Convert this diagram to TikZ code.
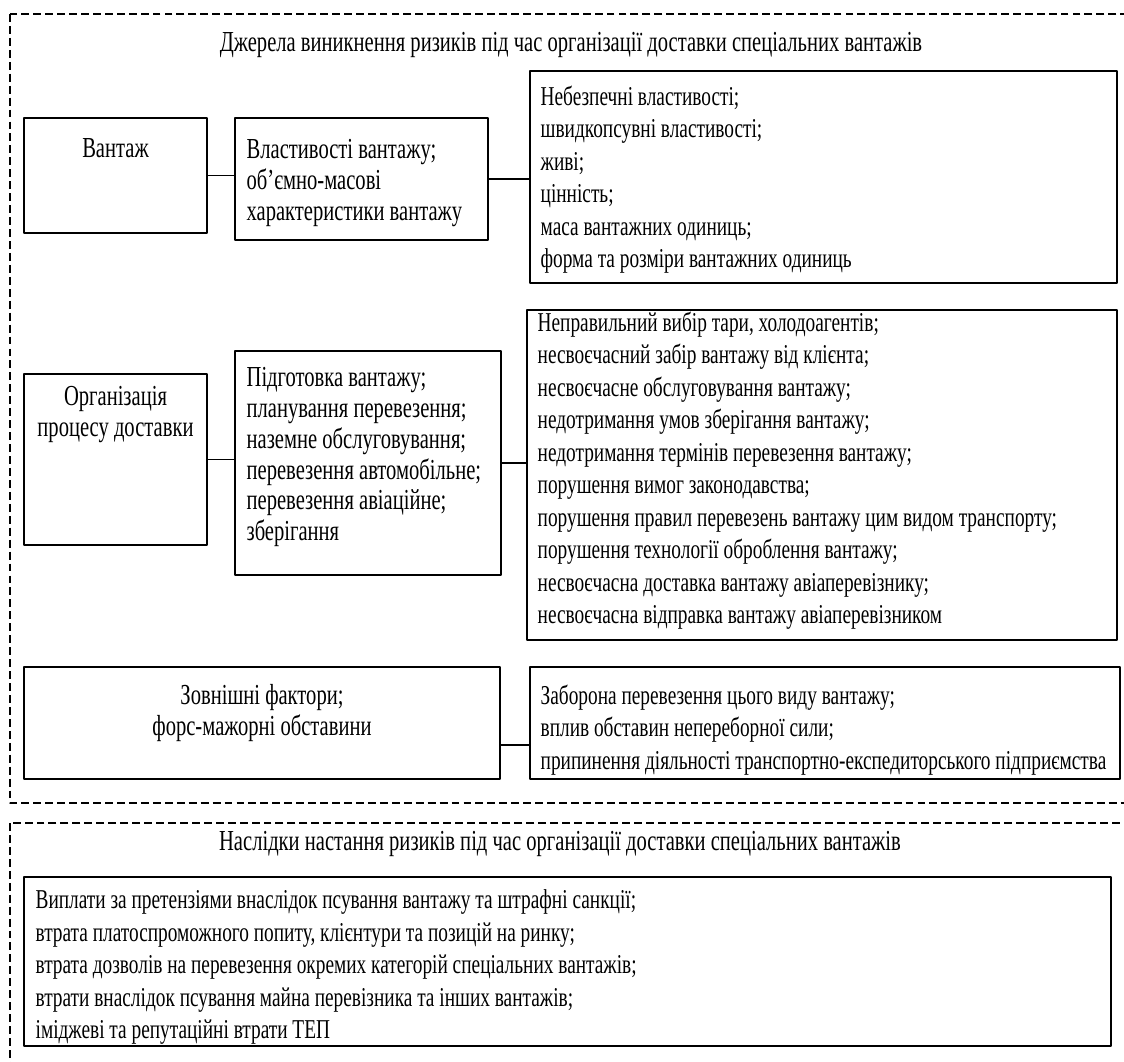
\documentclass[tikz,border=0pt]{standalone}
\usepackage{fontspec}
\setmainfont{Liberation Serif}[FakeStretch=0.71]
\usetikzlibrary{fit}
\begin{document}
\begin{tikzpicture}[x=0.02cm,y=-0.02cm,line join=round]
	\tikzset{box/.style={draw,line width=0.8pt,inner sep=0pt},
		txt/.style={font=\fontsize{16.5}{17.5}\selectfont,inner sep=0pt},
		sml/.style={font=\fontsize{15.5}{18.5}\selectfont,inner sep=0pt},
		lst/.style={txt,align=left,anchor=north west},
		slst/.style={sml,align=left,anchor=north west},
		ctr/.style={txt,align=center,anchor=north},
		frame/.style={line width=0.6pt,dash pattern=on 4.5pt off 2.3pt}}
	%% Межі рисунка
	\useasboundingbox (0,0) rectangle (1124,1061);
	\clip (0,0) rectangle (1124,1061);
	%% Пунктирні рамки
	\draw[frame] (10,14) rectangle (1160,803);
	\draw[frame] (10,823) rectangle (1160,1100);
	\node[txt] (tsrc) at (571,45) {Джерела виникнення ризиків під час організації доставки спеціальних вантажів};
	\node[txt] (tres) at (560,844) {Наслідки настання ризиків під час організації доставки спеціальних вантажів};
	%% Вантаж
	\node[box,fit={(24,118) (207,233)}] (vant) {};
	\node[box,fit={(235,118) (488,240)}] (vlast) {};
	\node[box,fit={(530,71) (1117,283)}] (lvant) {};
	\node[ctr] (tvant) at ([shift={(0,21)}]vant.north) {Вантаж};
	\node[lst] (tvlast) at ([shift={(12,22)}]vlast.north west) {Властивості вантажу;\\об’ємно-масові\\характеристики вантажу};
	\node[slst] (tlvant) at ([shift={(11,15)}]lvant.north west) {Небезпечні властивості;\\швидкопсувні властивості;\\живі;\\цінність;\\маса вантажних одиниць;\\форма та розміри вантажних одиниць};
	\draw[line width=0.8pt] (vant.east) -- (vant.east -| vlast.west);
	\draw[line width=0.8pt] (vlast.east) -- (vlast.east -| lvant.west);
	%% Організація процесу доставки
	\node[box,fit={(24,374) (207,545)}] (org) {};
	\node[box,fit={(235,351) (501,575)}] (pidg) {};
	\node[box,fit={(527,310) (1117,640)}] (lorg) {};
	\node[ctr] (torg) at ([shift={(0,13)}]org.north) {Організація\\процесу доставки};
	\node[lst] (tpidg) at ([shift={(12,17)}]pidg.north west) {Підготовка вантажу;\\планування перевезення;\\наземне обслуговування;\\перевезення автомобільне;\\перевезення авіаційне;\\зберігання};
	\node[slst] (tlorg) at ([shift={(11,2)}]lorg.north west) {Неправильний вибір тари, холодоагентів;\\несвоєчасний забір вантажу від клієнта;\\несвоєчасне обслуговування вантажу;\\недотримання умов зберігання вантажу;\\недотримання термінів перевезення вантажу;\\порушення вимог законодавства;\\порушення правил перевезень вантажу цим видом транспорту;\\порушення технології оброблення вантажу;\\несвоєчасна доставка вантажу авіаперевізнику;\\несвоєчасна відправка вантажу авіаперевізником};
	\draw[line width=0.8pt] (org.east) -- (org.east -| pidg.west);
	\draw[line width=0.8pt] (pidg.east) -- (pidg.east -| lorg.west);
	%% Зовнішні фактори
	\node[box,fit={(24,667) (500,779)}] (zovn) {};
	\node[box,fit={(530,667) (1120,779)}] (lzovn) {};
	\node[ctr] (tzovn) at ([shift={(0,18)}]zovn.north) {Зовнішні фактори;\\форс-мажорні обставини};
	\node[slst] (tlzovn) at ([shift={(11,18)}]lzovn.north west) {Заборона перевезення цього виду вантажу;\\вплив обставин непереборної сили;\\припинення діяльності транспортно-експедиторського підприємства};
	\draw[line width=0.8pt] ([shift={(0,22)}]zovn.east) -- ([shift={(0,22)}]zovn.east -| lzovn.west);
	%% Наслідки
	\node[box,fit={(24,877) (1111,1046)}] (res) {};
	\node[slst] (tres2) at ([shift={(12,13)}]res.north west) {Виплати за претензіями внаслідок псування вантажу та штрафні санкції;\\втрата платоспроможного попиту, клієнтури та позицій на ринку;\\втрата дозволів на перевезення окремих категорій спеціальних вантажів;\\втрати внаслідок псування майна перевізника та інших вантажів;\\іміджеві та репутаційні втрати ТЕП};
\end{tikzpicture}
\end{document}
